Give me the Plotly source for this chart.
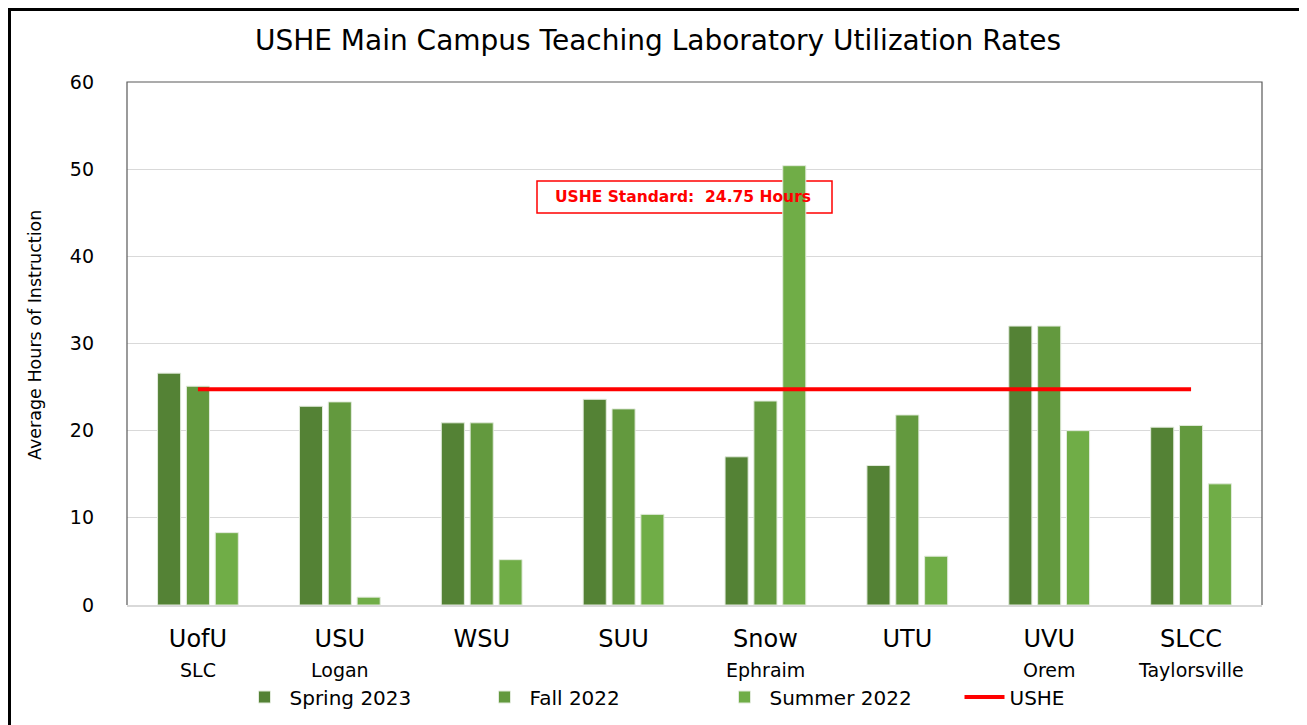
import plotly.graph_objects as go

categories = ["UofU", "USU", "WSU", "SUU", "Snow", "UTU", "UVU", "SLCC"]
locations = ["SLC", "Logan", "", "", "Ephraim", "", "Orem", "Taylorsville"]
spring_2023 = [26.6, 22.8, 20.9, 23.6, 17.0, 16.0, 32.0, 20.4]
fall_2022 = [25.1, 23.3, 20.9, 22.5, 23.4, 21.8, 32.0, 20.6]
summer_2022 = [8.3, 0.9, 5.2, 10.4, 50.4, 5.6, 20.0, 13.9]
ushe_standard = 24.75
y_ticks = [0, 10, 20, 30, 40, 50, 60]

FONT = "DejaVu Sans"
OFF = 8  # page body margin
W, H = 1299, 717
L, T = 127 - OFF, 82 - OFF
PR, PB = 1262 - OFF, 605 - OFF
R, B = W - PR, H - PB
pw, ph = PR - L, PB - T

def fx(px):  # figure px -> paper x
    return (px - L) / pw

def fy(py):  # figure px -> paper y
    return (PB - py) / ph

def rx(px):  # reference page px -> paper x
    return fx(px - OFF)

def ry(py):
    return fy(py - OFF)

fig = go.Figure()
series = [("Spring 2023", spring_2023, "#548235"),
          ("Fall 2022", fall_2022, "#63993E"),
          ("Summer 2022", summer_2022, "#70AD47")]
for name, vals, col in series:
    fig.add_trace(go.Bar(x=categories, y=vals, name=name, marker_color=col,
                         marker_line_color="#E2EBDC", marker_line_width=1))
fig.add_trace(go.Scatter(x=categories, y=[ushe_standard] * len(categories), name="USHE",
                         mode="lines", line=dict(color="#FF0000", width=4)))

shapes = [
    dict(type="rect", xref="paper", yref="paper",
         x0=fx(1.5), x1=fx(1295.5), y0=fy(740), y1=fy(1.5),
         line=dict(color="black", width=3), layer="above"),
    dict(type="path", xref="paper", yref="paper",
         path="M 0 0 L 0 1 L 1 1 L 1 0", line=dict(color="#595959", width=1.2), layer="above"),
    dict(type="rect", xref="paper", yref="paper",
         x0=rx(537), x1=rx(832), y0=ry(213), y1=ry(181),
         line=dict(color="#FF0000", width=1.5), fillcolor="white", layer="below"),
]

annotations = [
    dict(text="<b>USHE Standard:  24.75 Hours</b>", xref="paper", yref="paper",
         x=rx(683), y=ry(197), showarrow=False,
         font=dict(family=FONT, size=15.5, color="#FF0000"), xanchor="center", yanchor="middle"),
    dict(text="Average Hours of Instruction", xref="paper", yref="paper",
         x=rx(35), y=ry(335), showarrow=False, textangle=-90,
         font=dict(family=FONT, size=17.5, color="black"), xanchor="center", yanchor="middle"),
]
for c, loc in zip(categories, locations):
    if loc:
        annotations.append(dict(text=loc, x=c, xref="x", yref="paper", y=ry(670),
                                showarrow=False, yanchor="middle",
                                font=dict(family=FONT, size=19, color="black")))

fig.update_layout(
    width=W, height=H,
    margin=dict(l=L, r=R, t=T, b=B, autoexpand=False),
    paper_bgcolor="white", plot_bgcolor="white",
    title=dict(text="USHE Main Campus Teaching Laboratory Utilization Rates",
               x=(658 - OFF) / W, xref="container", xanchor="center",
               y=1 - (40 - OFF) / H, yanchor="middle", yref="container",
               font=dict(family=FONT, size=28, color="black")),
    barmode="group", bargap=0.39, bargroupgap=0.2,
    font=dict(family=FONT, color="black"),
    shapes=shapes, annotations=annotations,
    legend=dict(orientation="h", xref="container", x=(239.5 - OFF) / W, xanchor="left",
                yref="paper", y=ry(697), yanchor="middle",
                font=dict(family=FONT, size=20, color="black"), traceorder="normal",
                entrywidth=185, itemwidth=40),
    showlegend=True,
)
fig.update_yaxes(range=[0, 60], tickvals=y_ticks, showgrid=True, gridcolor="#D9D9D9", gridwidth=1,
                 zeroline=False, showline=False, ticks="", ticklabelstandoff=32,
                 tickfont=dict(family=FONT, size=19, color="black"))
fig.update_xaxes(showline=True, linecolor="#D9D9D9", linewidth=1.5, ticks="",
                 ticklabelstandoff=11, tickfont=dict(family=FONT, size=24, color="black"))

fig.write_html("out.html")
